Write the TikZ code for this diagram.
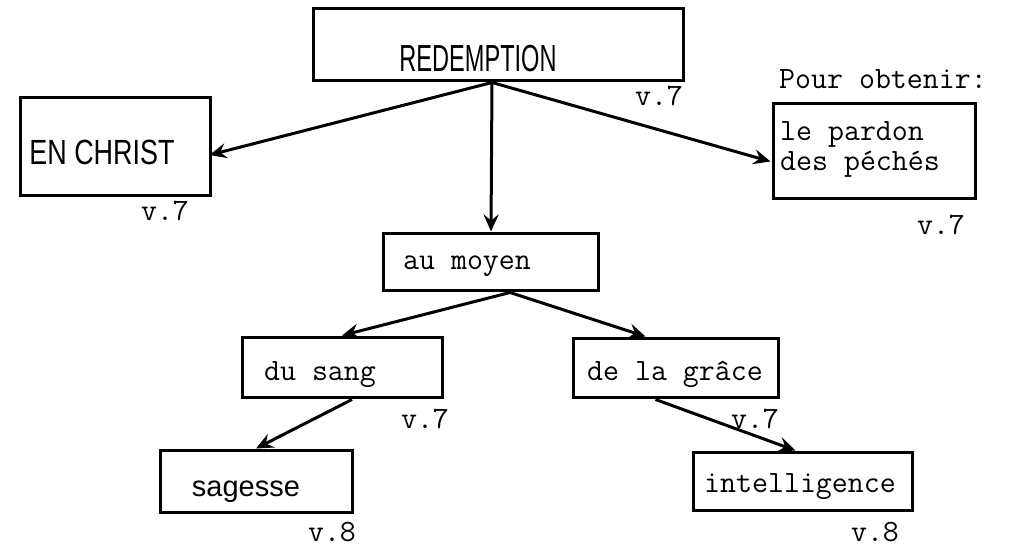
\documentclass[tikz,border=0pt]{standalone}
\usepackage{fontspec}
\usepackage{graphicx}
\setmainfont{Liberation Sans}
\usetikzlibrary{arrows.meta,calc}
\tikzset{
  box/.style={draw, line width=3pt, rectangle, inner sep=0pt},
  twlbl/.style={font=\ttfamily\fontsize{31}{35}\selectfont, inner sep=0pt, anchor=base},
  sslbl/.style={font=\fontsize{29}{34}\selectfont, inner sep=0pt, anchor=base},
  conn/.style={line width=3pt, -{Stealth[length=17pt,width=15pt,inset=6pt]}},
}
\begin{document}
\begin{tikzpicture}[x=1pt,y=-1pt]
\useasboundingbox (0,0) rectangle (1013,546);
% boxes
\node[box, minimum width=370pt, minimum height=72pt] (red) at (498,44) {};
\node[box, minimum width=190pt, minimum height=98pt] (ench) at (115,146) {};
\node[box, minimum width=202pt, minimum height=95pt] (pard) at (874,150.5) {};
\node[box, minimum width=215pt, minimum height=57pt] (moy) at (491,261.5) {};
\node[box, minimum width=200pt, minimum height=60pt] (sang) at (342,367) {};
\node[box, minimum width=205pt, minimum height=59pt] (grace) at (675.5,367.5) {};
\node[box, minimum width=192pt, minimum height=62pt] (sag) at (256,481) {};
\node[box, minimum width=219pt, minimum height=58pt] (intel) at (802.5,481) {};
% texts
\node[sslbl] (redt) at (478,71) {\scalebox{0.625}[1]{\fontsize{37.7}{42}\selectfont REDEMPTION}};
\node[sslbl] (encht) at (102,164) {\scalebox{0.77}[1]{\fontsize{35}{40}\selectfont EN CHRIST}};
\node[twlbl] (redv) at (659,105) {v.7};
\node[twlbl] (enchv) at (165,220) {v.7};
\node[twlbl] (pour) at (883,88) {Pour obtenir:};
\node[twlbl, anchor=base west] (pardt1) at (780,140) {le pardon};
\node[twlbl, anchor=base west] (pardt2) at (780,170) {des péchés};
\node[twlbl] (pardv) at (941,234) {v.7};
\node[twlbl] (moyt) at (467,269) {au moyen};
\node[twlbl] (sangt) at (320,380) {du sang};
\node[twlbl] (sangv) at (425,428) {v.7};
\node[twlbl] (gracet) at (675,380) {de la grâce};
\node[twlbl] (gracev) at (755,428) {v.7};
\node[sslbl] (sagt) at (246,496) {sagesse};
\node[twlbl] (sagv) at (332,541) {v.8};
\node[twlbl] (intelt) at (800,492) {intelligence};
\node[twlbl] (intelv) at (875,541) {v.8};
% connectors
\coordinate (r0) at ($(red.south)+(-6,1)$);
\draw[conn] (r0) -- ($(ench.east)+(-2,9)$);
\draw[conn] (r0) -- (moy.north);
\draw[conn] (r0) -- ($(pard.west)+(-1,11)$);
\coordinate (m0) at ($(moy.south)+(19,1)$);
\draw[conn] (m0) -- (sang.north);
\draw[conn] (m0) -- ($(grace.north)+(-30,0)$);
\draw[conn] ($(sang.south)+(10,1)$) -- (sag.north);
\draw[conn] ($(grace.south)+(-20,1)$) -- ($(intel.north)+(-7,0)$);
\end{tikzpicture}
\end{document}
